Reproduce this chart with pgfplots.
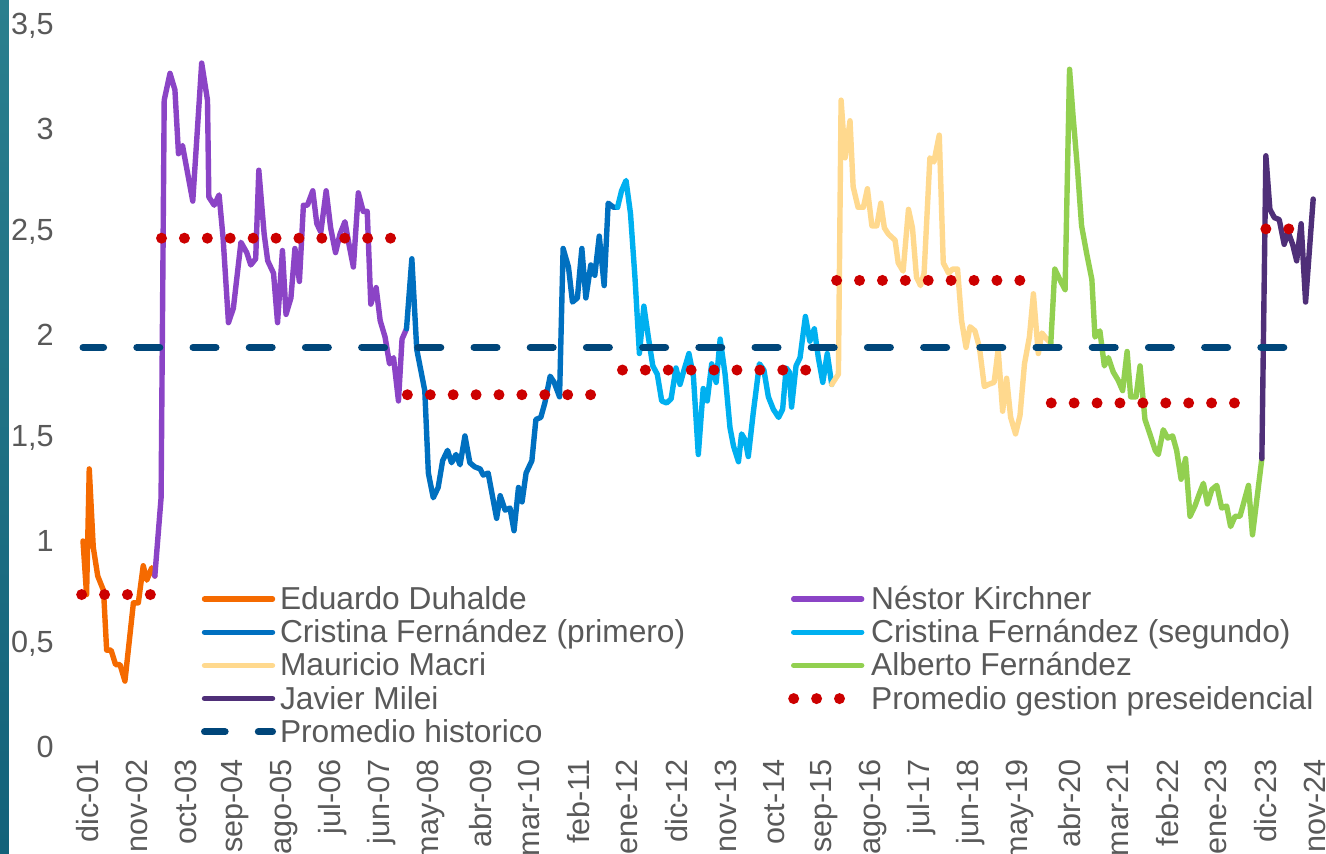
\documentclass[border=0pt]{standalone}
\usepackage{fontspec}
\setmainfont{Liberation Sans}
\usepackage{pgfplots}
\pgfplotsset{compat=1.18}
\definecolor{cDuh}{HTML}{F56A00}
\definecolor{cNK}{HTML}{8B44C6}
\definecolor{cCFKa}{HTML}{0070C0}
\definecolor{cCFKb}{HTML}{00B0F0}
\definecolor{cMac}{HTML}{FFD98E}
\definecolor{cAF}{HTML}{92D050}
\definecolor{cJM}{HTML}{4F2F78}
\definecolor{cRed}{HTML}{CC0000}
\definecolor{cHist}{HTML}{00467A}
\definecolor{txtgray}{HTML}{595959}
\definecolor{stripA}{HTML}{2A7F8E}
\definecolor{stripB}{HTML}{5AA9B3}
\definecolor{stripC}{HTML}{13627A}
\begin{document}
\begin{tikzpicture}
\path[use as bounding box, fill=white] (-41.5pt,-53pt) rectangle (621.5pt,373.5pt);
\shade[top color=stripA, middle color=stripB, bottom color=stripC] (-41.5pt,-53pt) rectangle (-37pt,373.5pt);
\begin{axis}[
  scale only axis, width=615.75pt, height=360.5pt,
  at={(0pt,0pt)}, anchor=south west,
  xmin=0, xmax=276, ymin=0, ymax=3.5,
  clip=false,
  axis line style={draw=none},
  major tick length=0pt,
  xtick={1,12,23,34,45,56,67,78,89,100,111,122,133,144,155,166,177,188,199,210,221,232,243,254,265,276},
  xticklabels={dic-01,nov-02,oct-03,sep-04,ago-05,jul-06,jun-07,may-08,abr-09,mar-10,feb-11,ene-12,dic-12,nov-13,oct-14,sep-15,ago-16,jul-17,jun-18,may-19,abr-20,mar-21,feb-22,ene-23,dic-23,nov-24},
  ytick={0,0.5,1,1.5,2,2.5,3,3.5},
  yticklabels={0,{0,5},1,{1,5},2,{2,5},3,{3,5}},
  tick label style={font=\fontsize{15.3pt}{18pt}\selectfont, text=txtgray, inner sep=0pt},
  xticklabel style={rotate=90, anchor=east},
  yticklabel style={anchor=east},
  xticklabel shift=6pt,
  yticklabel shift=14.5pt,
  every axis plot/.append style={line cap=round, line join=round},
  legend columns=2,
  legend cell align=left,
  legend image code/.code={\draw[#1] (0pt,0pt) -- (34pt,0pt);},
  legend style={at={(axis cs:26.45,0.784)}, anchor=north west, draw=none, fill=none,
    inner sep=0pt, outer sep=0pt, font=\fontsize{15.85pt}{18pt}\selectfont, text=txtgray,
    row sep=3.1pt,
    nodes={inner sep=0pt, text height=12pt, text depth=1.5pt},
    /tikz/every odd column/.append style={column sep=2pt},
    /tikz/every even column/.append style={column sep=51.5pt}},
]
\addplot[cDuh, line width=2.7pt] coordinates {
(0,1.00) (0.8,0.74) (1.4,1.35) (2.3,0.97) (3.3,0.83) (4.6,0.76) (5.3,0.47) (6.3,0.47) (7.3,0.40) (8.3,0.40) (9.4,0.32) (11.3,0.70) (12.4,0.70) (13.5,0.88) (14.3,0.81) (15.4,0.87) (16.1,0.83)};
\addlegendentry{Eduardo Duhalde}
\addplot[cNK, line width=2.7pt] coordinates {
(16.1,0.83) (17.5,1.21) (18.2,3.14) (19.5,3.27) (20.6,3.19) (21.4,2.88) (22.3,2.92) (24.6,2.65) (26.6,3.32) (27.9,3.14) (28.2,2.67) (29.4,2.63) (30.5,2.68) (31.4,2.47) (32.6,2.06) (33.7,2.13) (35.4,2.45) (36.7,2.40) (37.6,2.34) (38.7,2.37) (39.4,2.80) (40.6,2.49) (41.4,2.36) (42.7,2.30) (43.6,2.06) (44.7,2.41) (45.5,2.10) (46.6,2.18) (47.5,2.42) (48.5,2.26) (49.4,2.63) (50.3,2.63) (51.5,2.70) (52.4,2.54) (53.3,2.50) (54.5,2.70) (55.5,2.52) (56.6,2.40) (57.6,2.49) (58.7,2.55) (59.7,2.43) (60.6,2.33) (61.7,2.69) (62.8,2.60) (63.7,2.60) (64.5,2.15) (65.7,2.23) (66.6,2.07) (67.7,1.99) (68.7,1.86) (69.6,1.89) (70.7,1.68) (71.5,1.98) (72.5,2.03)};
\addlegendentry{Néstor Kirchner}
\addplot[cCFKa, line width=2.7pt] coordinates {
(72.5,2.03) (73.7,2.37) (74.8,1.93) (76.6,1.73) (77.4,1.33) (78.5,1.21) (79.6,1.26) (80.6,1.39) (81.7,1.44) (82.6,1.38) (83.6,1.42) (84.5,1.37) (85.6,1.51) (86.7,1.38) (87.8,1.36) (89.0,1.35) (89.7,1.32) (90.8,1.33) (92.7,1.11) (93.5,1.22) (94.6,1.15) (95.7,1.16) (96.6,1.05) (97.6,1.26) (98.4,1.19) (99.3,1.33) (100.6,1.39) (101.5,1.59) (102.6,1.60) (103.5,1.67) (104.7,1.80) (105.6,1.77) (106.8,1.70) (107.6,2.42) (108.8,2.33) (109.7,2.16) (110.8,2.18) (111.8,2.42) (112.7,2.18) (113.8,2.34) (114.7,2.29) (115.7,2.48) (116.8,2.24) (117.7,2.64) (118.9,2.62) (119.8,2.62)};
\addlegendentry{Cristina Fernández (primero)}
\addplot[cCFKb, line width=2.7pt] coordinates {
(119.8,2.62) (120.7,2.70) (121.7,2.75) (122.7,2.59) (123.7,2.28) (124.7,1.91) (125.7,2.14) (126.7,1.99) (127.7,1.85) (128.7,1.81) (129.7,1.68) (130.8,1.67) (131.8,1.69) (132.9,1.84) (133.8,1.76) (134.7,1.83) (135.8,1.91) (136.8,1.80) (137.9,1.42) (139.0,1.74) (139.9,1.68) (140.9,1.86) (141.9,1.77) (142.8,1.98) (143.9,1.81) (145.0,1.55) (145.8,1.46) (146.9,1.385) (147.6,1.52) (148.4,1.49) (149.1,1.41) (150.2,1.62) (151.6,1.86) (152.6,1.83) (153.6,1.70) (154.7,1.64) (155.9,1.60) (156.8,1.64) (157.6,1.84) (158.3,1.82) (158.8,1.65) (159.8,1.85) (160.7,1.89) (161.9,2.09) (162.9,1.97) (163.9,2.03) (164.8,1.89) (165.8,1.77) (166.8,1.91) (167.8,1.76)};
\addlegendentry{Cristina Fernández (segundo)}
\addplot[cMac, line width=2.7pt] coordinates {
(167.8,1.76) (169.3,1.81) (169.9,3.14) (170.8,2.86) (171.9,3.04) (172.6,2.72) (173.7,2.62) (174.9,2.62) (175.8,2.71) (176.8,2.53) (177.9,2.53) (178.8,2.64) (179.6,2.52) (180.5,2.49) (182.0,2.46) (182.7,2.35) (183.8,2.31) (185.0,2.61) (185.9,2.52) (186.8,2.28) (187.7,2.24) (188.5,2.30) (189.8,2.86) (190.7,2.84) (191.9,2.97) (192.8,2.35) (194.0,2.30) (194.9,2.32) (196.0,2.32) (196.9,2.07) (197.9,1.94) (198.8,2.04) (199.9,2.02) (200.9,1.94) (202.0,1.75) (202.9,1.76) (204.2,1.77) (205.1,1.93) (206.1,1.63) (207.0,1.79) (207.9,1.60) (209.0,1.52) (210.0,1.61) (211.0,1.86) (212.1,1.99) (213.0,2.20) (214.1,1.91) (214.9,2.01) (216.0,1.98) (216.9,1.96)};
\addlegendentry{Mauricio Macri}
\addplot[cAF, line width=2.7pt] coordinates {
(216.9,1.96) (217.8,2.32) (218.9,2.27) (220.1,2.22) (221.1,3.29) (221.9,3.06) (222.9,2.80) (223.8,2.53) (224.9,2.40) (226.1,2.27) (226.8,1.99) (227.9,2.02) (228.9,1.85) (229.8,1.89) (230.9,1.82) (232.0,1.78) (233.0,1.73) (234.0,1.92) (234.8,1.70) (236.0,1.70) (236.9,1.85) (238.0,1.59) (239.1,1.52) (240.3,1.44) (241.0,1.42) (242.1,1.54) (243.1,1.50) (244.2,1.51) (245.1,1.44) (246.1,1.30) (247.1,1.40) (248.1,1.12) (249.2,1.17) (250.2,1.23) (251.1,1.28) (252.0,1.18) (253.0,1.25) (254.1,1.27) (255.2,1.16) (256.3,1.17) (257.2,1.07) (258.2,1.12) (259.3,1.12) (261.2,1.27) (262.1,1.03) (264.2,1.40)};
\addlegendentry{Alberto Fernández}
\addplot[cJM, line width=2.7pt] coordinates {
(264.2,1.40) (265.1,2.87) (266.0,2.61) (267.0,2.57) (268.1,2.56) (269.2,2.44) (270.1,2.50) (271.1,2.44) (272.0,2.36) (273.0,2.54) (274.0,2.16) (275.7,2.66)};
\addlegendentry{Javier Milei}
\addplot[cRed, line width=5.5pt, dash pattern=on 0pt off 11.45pt, unbounded coords=jump] coordinates {
(-0.3,0.74) (15.3,0.74) (16,nan)
(17.6,2.47) (69.1,2.47) (70,nan)
(72.7,1.71) (113.9,1.71) (115,nan)
(120.9,1.83) (162.1,1.83) (163,nan)
(168.9,2.265) (210.1,2.265) (211,nan)
(217.0,1.67) (258.2,1.67) (259,nan)
(265.1,2.515) (270.35,2.515)};
\addlegendentry{Promedio gestion preseidencial}
\addplot[cHist, line width=3.5pt, dash pattern=on 11.5pt off 16.6pt, dash phase=1.2pt] coordinates {(0,1.94) (270,1.94)};
\addlegendentry{Promedio historico}
\end{axis}
\end{tikzpicture}
\end{document}
